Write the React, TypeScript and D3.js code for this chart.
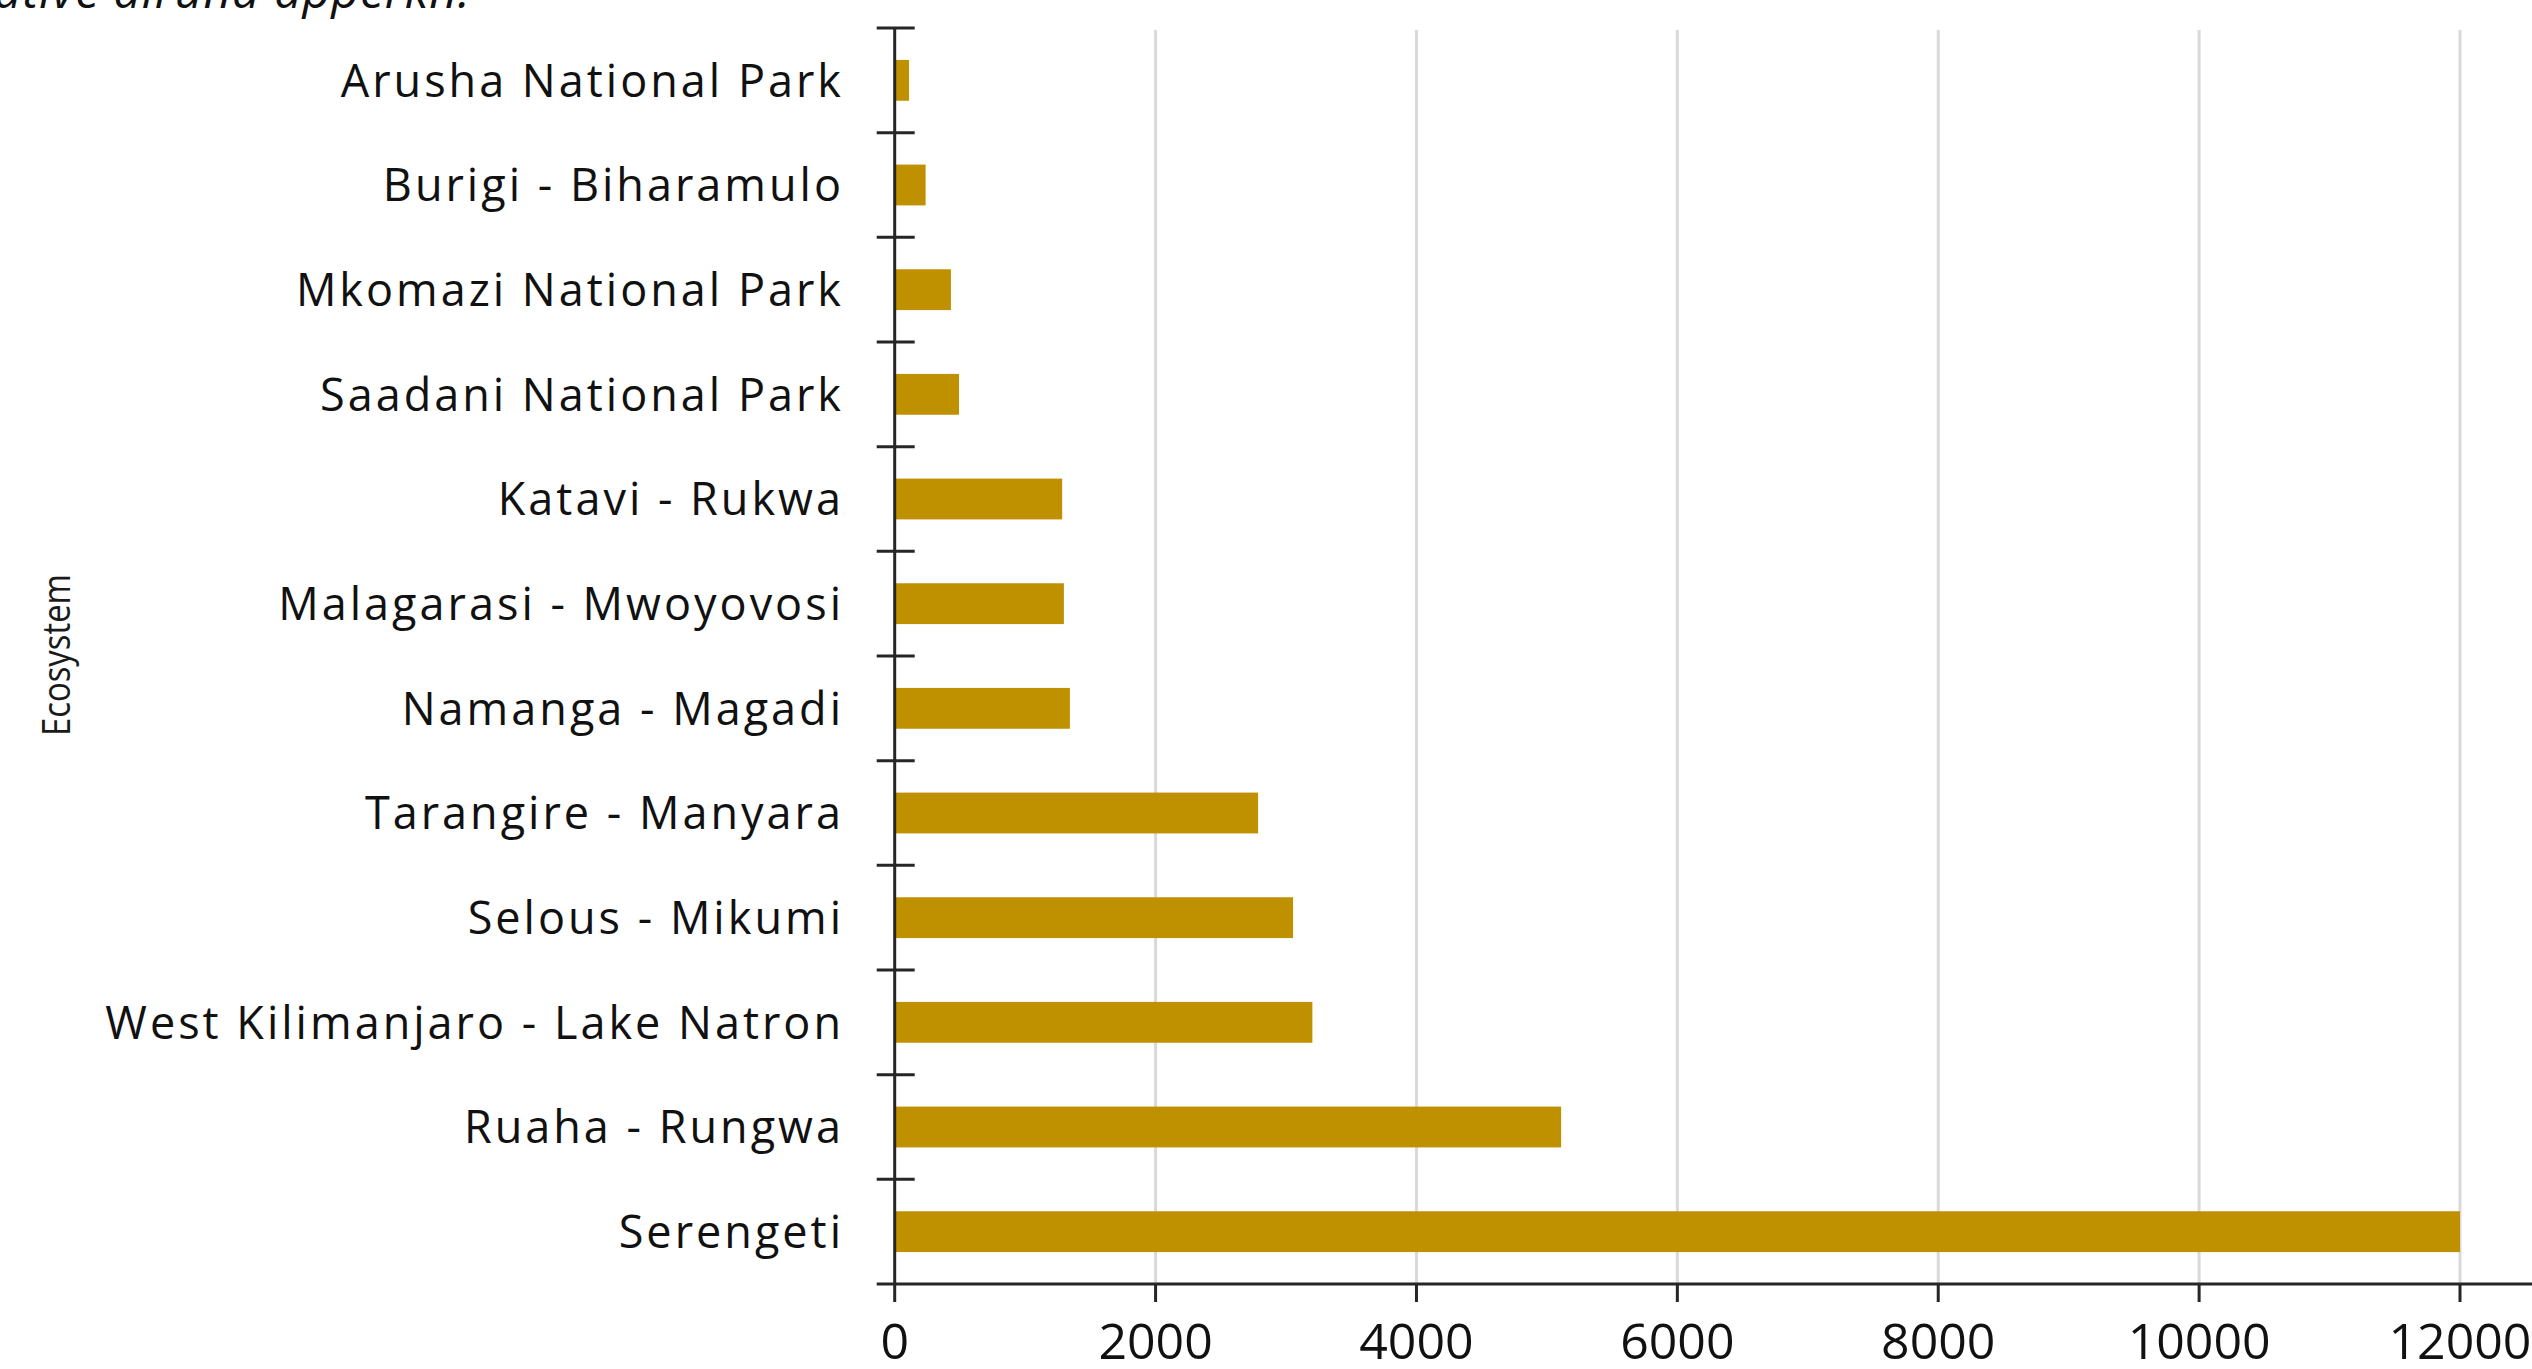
import React from "react";
import * as d3 from "d3";

const categories = [
  "Arusha National Park",
  "Burigi - Biharamulo",
  "Mkomazi National Park",
  "Saadani National Park",
  "Katavi - Rukwa",
  "Malagarasi - Mwoyovosi",
  "Namanga - Magadi",
  "Tarangire - Manyara",
  "Selous - Mikumi",
  "West Kilimanjaro - Lake Natron",
  "Ruaha - Rungwa",
  "Serengeti",
];
const values = [110, 237, 431, 493, 1284, 1297, 1343, 2786, 3054, 3202, 5109, 12000];
const xTicks = [0, 2000, 4000, 6000, 8000, 10000, 12000];
const yAxisTitle = "Ecosystem";
const captionText = "ative  alrund apperkn.";

const W = 2532;
const H = 1369;
const AX = 894.7; // y axis x
const TOP = 28;
const BOTTOM = 1284;
const X12 = 2460;

export default function App() {
  const x = d3.scaleLinear().domain([0, 12000]).range([AX, X12]);
  const yBound = d3.scaleBand<string>().domain(categories).range([TOP, BOTTOM]).padding(0);
  const y = d3
    .scaleBand<string>()
    .domain(categories)
    .range([TOP, BOTTOM])
    .paddingInner(0.61)
    .paddingOuter(0.305);
  const step = yBound.step();
  const boundaries = categories.map((c) => yBound(c) as number);

  const axisColor = "#262626";
  const font = "'Open Sans', sans-serif";

  return (
    <svg
      width={W}
      height={H}
      style={{ position: "absolute", left: 0, top: 0, display: "block", background: "#fff" }}
    >
      <rect x={0} y={0} width={W} height={H} fill="#ffffff" />
      {/* clipped caption at top */}
      <text
        x={-6}
        y={8}
        fontFamily={font}
        fontStyle="italic"
        fontSize={48}
        letterSpacing={1}
        fill="#111"
      >
        {captionText}
      </text>

      {/* gridlines */}
      {xTicks
        .filter((t) => t > 0)
        .map((t) => (
          <line
            key={"g" + t}
            x1={x(t)}
            x2={x(t)}
            y1={TOP + 2}
            y2={BOTTOM}
            stroke="#d9d9d9"
            strokeWidth={3}
          />
        ))}

      {/* bars */}
      {categories.map((c, i) => (
        <rect
          key={c}
          x={x(0)}
          y={y(c)}
          width={x(values[i]) - x(0)}
          height={y.bandwidth()}
          fill="#bf9000"
        />
      ))}

      {/* y axis */}
      <line x1={AX} x2={AX} y1={TOP} y2={BOTTOM} stroke={axisColor} strokeWidth={3} />
      {boundaries.map((b, i) => (
        <line
          key={"t" + i}
          x1={AX - 18}
          x2={AX + 20}
          y1={b}
          y2={b}
          stroke={axisColor}
          strokeWidth={3}
        />
      ))}

      {/* x axis */}
      <line x1={AX - 18} x2={W} y1={BOTTOM} y2={BOTTOM} stroke={axisColor} strokeWidth={3} />
      {xTicks.map((t) => (
        <line
          key={"xt" + t}
          x1={x(t)}
          x2={x(t)}
          y1={BOTTOM}
          y2={BOTTOM + 18}
          stroke={axisColor}
          strokeWidth={3}
        />
      ))}
      {xTicks.map((t) => (
        <text
          key={"xl" + t}
          x={x(t)}
          y={1359}
          textAnchor="middle"
          fontFamily={font}
          fontSize={50}
          fill="#111"
        >
          {t}
        </text>
      ))}

      {/* category labels */}
      {categories.map((c) => (
        <text
          key={"l" + c}
          x={844}
          y={(yBound(c) as number) + step / 2}
          dy="0.36em"
          textAnchor="end"
          fontFamily={font}
          fontSize={45}
          fontWeight={500}
          letterSpacing={3}
          fill="#111"
        >
          {c}
        </text>
      ))}

      {/* y axis title */}
      <text
        transform={`translate(70, 655) rotate(-90)`}
        textAnchor="middle"
        fontFamily={font}
        fontSize={38}
        textLength={162}
        lengthAdjust="spacingAndGlyphs"
        fill="#1a1a1a"
      >
        {yAxisTitle}
      </text>
    </svg>
  );
}
